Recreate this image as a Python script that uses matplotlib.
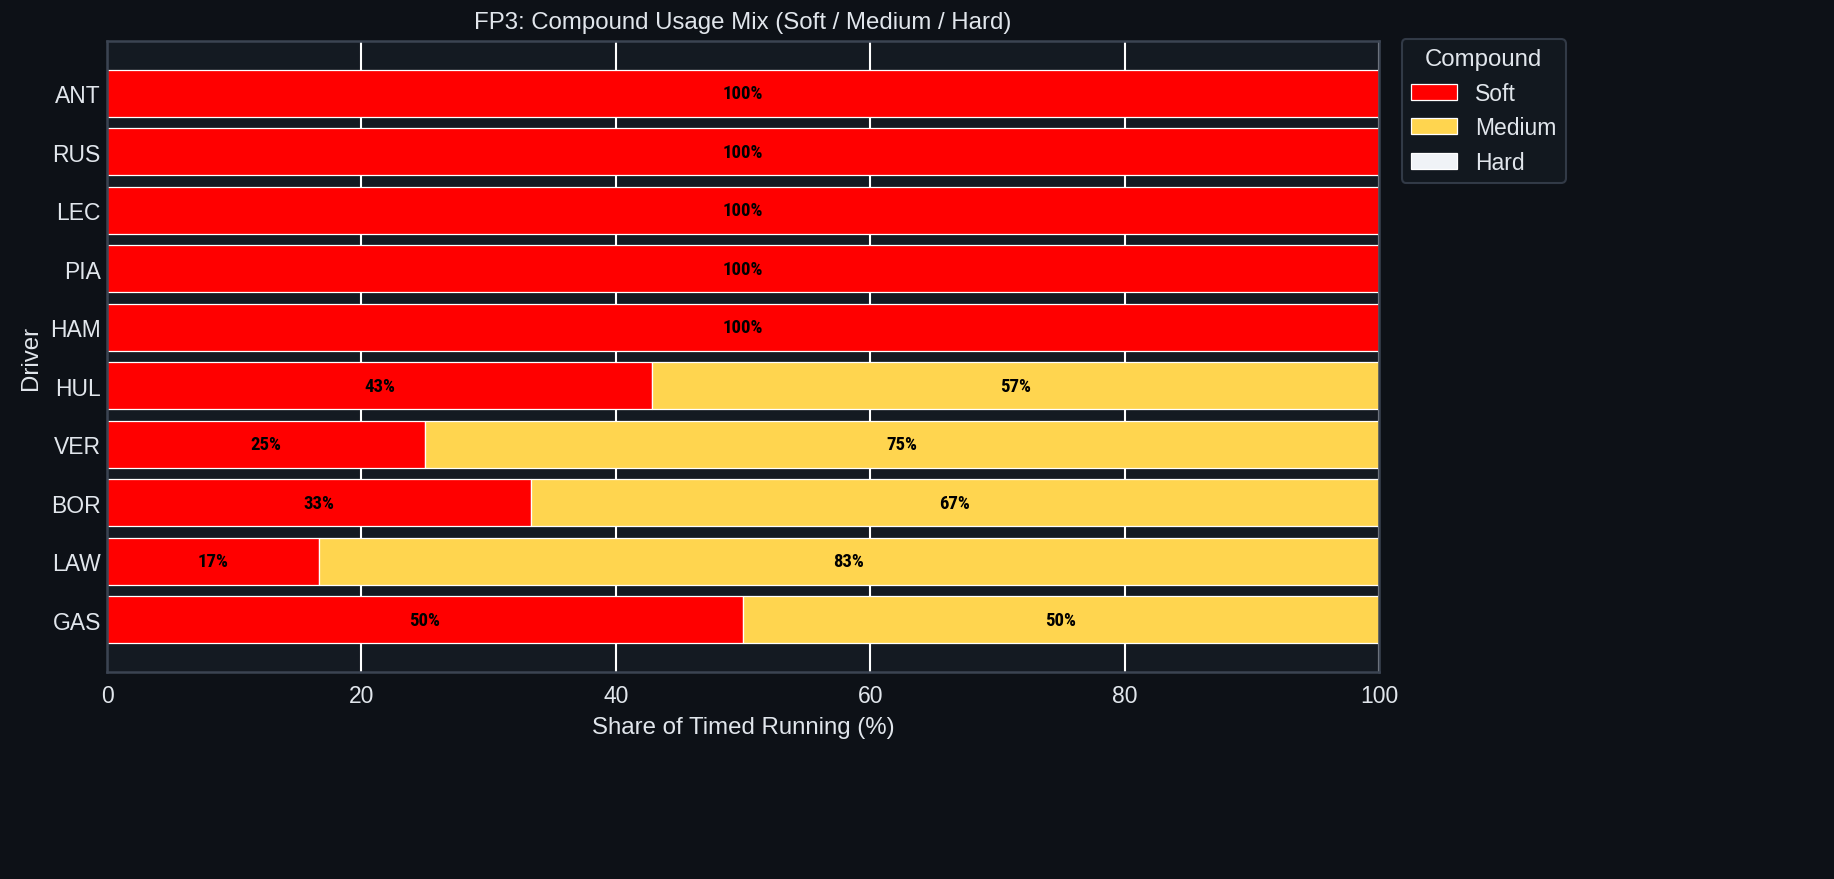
import matplotlib
matplotlib.use('Agg')
import matplotlib.pyplot as plt
from matplotlib import font_manager
import numpy as np

drivers = ['ANT', 'RUS', 'LEC', 'PIA', 'HAM', 'HUL', 'VER', 'BOR', 'LAW', 'GAS']
soft = [100, 100, 100, 100, 100, 42.857, 25, 33.333, 16.667, 50]
medium = [0, 0, 0, 0, 0, 57.143, 75, 66.667, 83.333, 50]
hard = [0, 0, 0, 0, 0, 0, 0, 0, 0, 0]

compounds = ['Soft', 'Medium', 'Hard']
colors = ['#ff0000', '#ffd54f', '#f0f3f7']

bg = '#0d1117'
panel = '#141a22'
edge = '#3b4452'
txt = '#e1e6ec'

plt.rcParams['font.family'] = ['Liberation Sans', 'DejaVu Sans']

# pick a narrow bold face for the segment labels if one is there
names = {f.name for f in font_manager.fontManager.ttflist}
narrow = [n for n in ['Liberation Sans Narrow', 'Roboto Condensed', 'Open Sans Condensed']
          if n in names]
lab_family = narrow + ['DejaVu Sans']
lab_stretch = 'normal' if narrow else 'condensed'

fig = plt.figure(figsize=(1834 / 150, 880 / 150), dpi=150, facecolor=bg)
ax = fig.add_axes([107 / 1834, 1 - 673 / 880, (1379 - 107) / 1834, (673 - 42) / 880])
ax.set_facecolor(panel)

y = np.arange(len(drivers))
left = np.zeros(len(drivers))
for name, vals, c in zip(compounds, [soft, medium, hard], colors):
    vals = np.array(vals)
    bars = ax.barh(y, vals, left=left, color=c, edgecolor='white', linewidth=0.6,
                   height=0.8, label=name, zorder=2)
    for b, v, l in zip(bars, vals, left):
        if v > 0:
            ax.text(l + v / 2, b.get_y() + b.get_height() / 2, f'{v:.0f}%',
                    ha='center', va='center', fontsize=9, fontweight='bold',
                    color='black', family=lab_family, fontstretch=lab_stretch, zorder=3)
    left = left + vals

ax.invert_yaxis()
ax.set_yticks(y)
ax.set_yticklabels(drivers)
ax.set_xlim(0, 100)
ax.xaxis.grid(True, color='white', linewidth=1.0, zorder=0)
ax.set_axisbelow(True)

for s in ax.spines.values():
    s.set_color(edge)
    s.set_linewidth(1.2)
ax.tick_params(colors=txt, labelsize=11, length=0)
ax.tick_params(axis='y', pad=3)
ax.tick_params(axis='x', pad=6)

ax.set_title('FP3: Compound Usage Mix (Soft / Medium / Hard)', color=txt, fontsize=11.5, pad=6)
ax.set_xlabel('Share of Timed Running (%)', color=txt, fontsize=11.5, labelpad=4)
ax.set_ylabel('Driver', color=txt, fontsize=11.5, labelpad=4)

leg = ax.legend(title='Compound', loc='upper left', bbox_to_anchor=(1.018, 1.003),
                facecolor=panel, edgecolor=edge, labelcolor=txt, fontsize=11,
                title_fontsize=11.5, borderaxespad=0)
leg.get_title().set_color(txt)

fig.savefig('out.png', dpi=150, facecolor=bg)
